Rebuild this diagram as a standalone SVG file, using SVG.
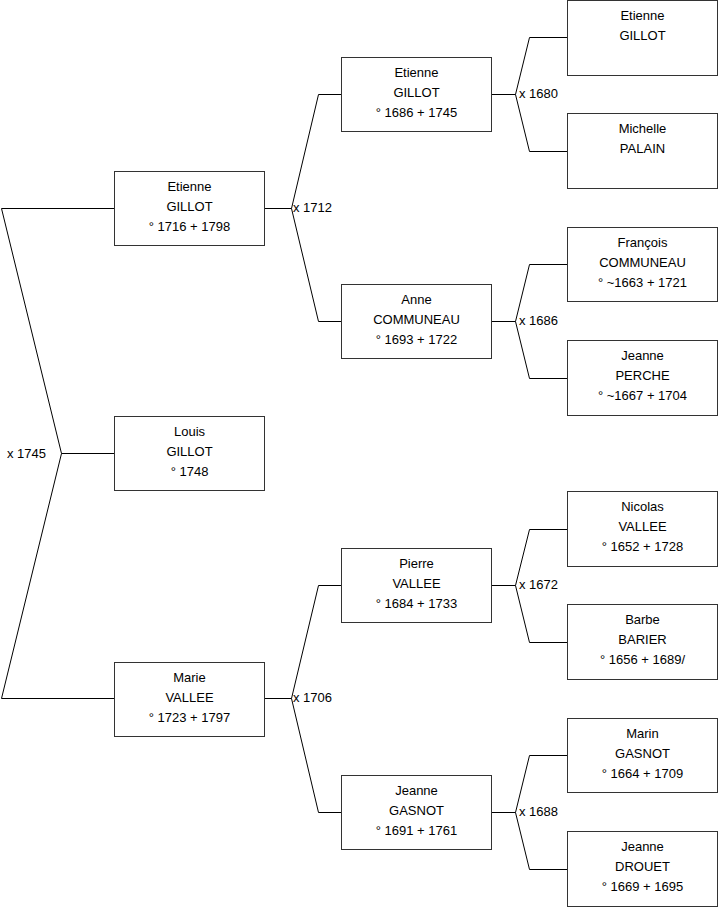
<svg xmlns="http://www.w3.org/2000/svg" width="719" height="908" viewBox="0 0 719 908">
<style>
.b{fill:#fff;stroke:#333;stroke-width:1}
.t{font-family:"Liberation Sans",Arial,sans-serif;font-size:13px;fill:#000;text-anchor:middle}
.l{font-family:"Liberation Sans",Arial,sans-serif;font-size:13px;fill:#000}
.c{fill:none;stroke:#000;stroke-width:1}
</style>
<rect width="719" height="908" fill="#fff"/>
<g id="connectors">
<polyline class="c" points="114,208.5 1.5,208.5 61.5,453.5 1.5,698.5 114,698.5"/>
<line class="c" x1="61.5" y1="453.5" x2="114" y2="453.5"/>
<text class="l" x="7" y="457.5">x 1745</text>
<polyline class="c" points="341,94.5 318.5,94.5 291.5,208.5 318.5,321.5 341,321.5"/>
<line class="c" x1="265" y1="208.5" x2="291.5" y2="208.5"/>
<text class="l" x="293" y="212">x 1712</text>
<polyline class="c" points="341,585.5 318.5,585.5 291.5,698.5 318.5,812.5 341,812.5"/>
<line class="c" x1="265" y1="698.5" x2="291.5" y2="698.5"/>
<text class="l" x="293" y="702">x 1706</text>
<polyline class="c" points="567,37.5 529.5,37.5 515.5,94.5 529.5,151.5 567,151.5"/>
<line class="c" x1="492" y1="94.5" x2="515.5" y2="94.5"/>
<text class="l" x="519" y="98">x 1680</text>
<polyline class="c" points="567,264.5 529.5,264.5 515.5,321.5 529.5,378.5 567,378.5"/>
<line class="c" x1="492" y1="321.5" x2="515.5" y2="321.5"/>
<text class="l" x="519" y="325">x 1686</text>
<polyline class="c" points="567,529.5 529.5,529.5 515.5,585.5 529.5,642.5 567,642.5"/>
<line class="c" x1="492" y1="585.5" x2="515.5" y2="585.5"/>
<text class="l" x="519" y="589">x 1672</text>
<polyline class="c" points="567,755.5 529.5,755.5 515.5,812.5 529.5,869.5 567,869.5"/>
<line class="c" x1="492" y1="812.5" x2="515.5" y2="812.5"/>
<text class="l" x="519" y="816">x 1688</text>
</g>
<g id="n_etienne_1716"><rect class="b" x="114.5" y="171.5" width="150" height="74"/><text class="t" x="189.5" y="191">Etienne</text><text class="t" x="189.5" y="211">GILLOT</text><text class="t" x="189.5" y="231">° 1716 + 1798</text></g>
<g id="n_louis"><rect class="b" x="114.5" y="416.5" width="150" height="74"/><text class="t" x="189.5" y="436">Louis</text><text class="t" x="189.5" y="456">GILLOT</text><text class="t" x="189.5" y="476">° 1748</text></g>
<g id="n_marie"><rect class="b" x="114.5" y="662.5" width="150" height="74"/><text class="t" x="189.5" y="682">Marie</text><text class="t" x="189.5" y="702">VALLEE</text><text class="t" x="189.5" y="722">° 1723 + 1797</text></g>
<g id="n_etienne_1686"><rect class="b" x="341.5" y="57.5" width="150" height="74"/><text class="t" x="416.5" y="77">Etienne</text><text class="t" x="416.5" y="97">GILLOT</text><text class="t" x="416.5" y="117">° 1686 + 1745</text></g>
<g id="n_anne"><rect class="b" x="341.5" y="284.5" width="150" height="74"/><text class="t" x="416.5" y="304">Anne</text><text class="t" x="416.5" y="324">COMMUNEAU</text><text class="t" x="416.5" y="344">° 1693 + 1722</text></g>
<g id="n_pierre"><rect class="b" x="341.5" y="548.5" width="150" height="74"/><text class="t" x="416.5" y="568">Pierre</text><text class="t" x="416.5" y="588">VALLEE</text><text class="t" x="416.5" y="608">° 1684 + 1733</text></g>
<g id="n_jeanne_gasnot"><rect class="b" x="341.5" y="775.5" width="150" height="74"/><text class="t" x="416.5" y="795">Jeanne</text><text class="t" x="416.5" y="815">GASNOT</text><text class="t" x="416.5" y="835">° 1691 + 1761</text></g>
<g id="n_etienne_gp"><rect class="b" x="567.5" y="0.5" width="150" height="75"/><text class="t" x="642.5" y="20">Etienne</text><text class="t" x="642.5" y="40">GILLOT</text></g>
<g id="n_michelle"><rect class="b" x="567.5" y="113.5" width="150" height="75"/><text class="t" x="642.5" y="133">Michelle</text><text class="t" x="642.5" y="153">PALAIN</text></g>
<g id="n_francois"><rect class="b" x="567.5" y="227.5" width="150" height="74"/><text class="t" x="642.5" y="247">François</text><text class="t" x="642.5" y="267">COMMUNEAU</text><text class="t" x="642.5" y="287">° ~1663 + 1721</text></g>
<g id="n_jeanne_perche"><rect class="b" x="567.5" y="340.5" width="150" height="75"/><text class="t" x="642.5" y="360">Jeanne</text><text class="t" x="642.5" y="380">PERCHE</text><text class="t" x="642.5" y="400">° ~1667 + 1704</text></g>
<g id="n_nicolas"><rect class="b" x="567.5" y="491.5" width="150" height="75"/><text class="t" x="642.5" y="511">Nicolas</text><text class="t" x="642.5" y="531">VALLEE</text><text class="t" x="642.5" y="551">° 1652 + 1728</text></g>
<g id="n_barbe"><rect class="b" x="567.5" y="604.5" width="150" height="75"/><text class="t" x="642.5" y="624">Barbe</text><text class="t" x="642.5" y="644">BARIER</text><text class="t" x="642.5" y="664">° 1656 + 1689/</text></g>
<g id="n_marin"><rect class="b" x="567.5" y="718.5" width="150" height="74"/><text class="t" x="642.5" y="738">Marin</text><text class="t" x="642.5" y="758">GASNOT</text><text class="t" x="642.5" y="778">° 1664 + 1709</text></g>
<g id="n_jeanne_drouet"><rect class="b" x="567.5" y="831.5" width="150" height="75"/><text class="t" x="642.5" y="851">Jeanne</text><text class="t" x="642.5" y="871">DROUET</text><text class="t" x="642.5" y="891">° 1669 + 1695</text></g>
</svg>
